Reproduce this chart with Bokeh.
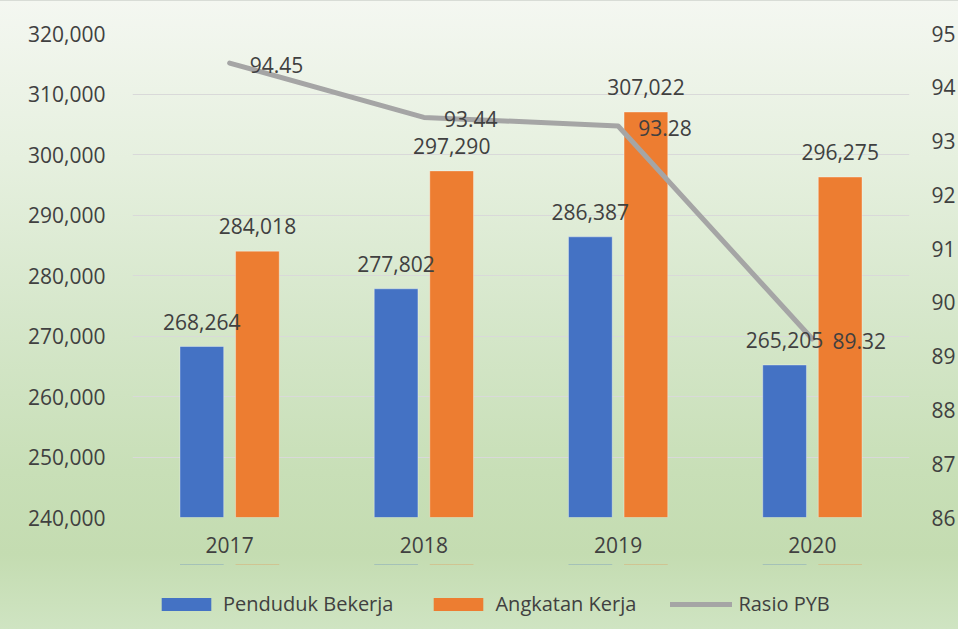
from bokeh.plotting import figure
from bokeh.layouts import column
from bokeh.models import (ColumnDataSource, Range1d, FactorRange, LinearAxis, FixedTicker,
                          NumeralTickFormatter, LabelSet, Legend, LegendItem)
from bokeh.core.properties import value
from bokeh.transform import dodge
from bokeh.embed import file_html
from bokeh.resources import INLINE

# ---- data ----
years = ["2017", "2018", "2019", "2020"]
penduduk_bekerja = [268264, 277802, 286387, 265205]
angkatan_kerja = [284018, 297290, 307022, 296275]
rasio_pyb = [94.45, 93.44, 93.28, 89.32]
left_ticks = [240000, 250000, 260000, 270000, 280000, 290000, 300000, 310000, 320000]
right_ticks = [86, 87, 88, 89, 90, 91, 92, 93, 94, 95]
series_names = ["Penduduk Bekerja", "Angkatan Kerja", "Rasio PYB"]

BLUE = "#4472C4"
ORANGE = "#ED7D31"
GRAY = "#A5A5A5"
TXT = "#404040"
FONT = "Open Sans"

src = ColumnDataSource(dict(
    year=years,
    pb=penduduk_bekerja,
    ak=angkatan_kerja,
    pyb=rasio_pyb,
    base=[left_ticks[0]] * len(years),
    pb_lbl=[f"{v:,}" for v in penduduk_bekerja],
    ak_lbl=[f"{v:,}" for v in angkatan_kerja],
    pyb_lbl=[f"{v:.2f}" for v in rasio_pyb],
))

W = 958
xr = FactorRange(*years)
p = figure(x_range=xr,
           y_range=Range1d(left_ticks[0], left_ticks[-1]),
           width=W, height=563,
           output_backend="svg", toolbar_location=None,
           min_border_left=132, min_border_right=45,
           min_border_top=32, min_border_bottom=47,
           background_fill_alpha=0, border_fill_alpha=0,
           outline_line_color=None)

p.extra_y_ranges = {"pyb": Range1d(right_ticks[0], right_ticks[-1])}

# bars
bw = 0.225
bar_style = dict(line_color="white", line_alpha=0.35, line_width=1)
b1 = p.vbar(x=dodge("year", -0.143, range=xr), top="pb", bottom="base", width=bw,
            source=src, fill_color=BLUE, **bar_style)
b2 = p.vbar(x=dodge("year", 0.143, range=xr), top="ak", bottom="base", width=bw,
            source=src, fill_color=ORANGE, **bar_style)
# line
line_style = dict(line_color=GRAY, line_width=5, line_join="round", line_cap="round")
l1 = p.line(x="year", y="pyb", source=src, y_range_name="pyb", **line_style)

# axes
p.yaxis.ticker = FixedTicker(ticks=left_ticks)
p.yaxis.formatter = NumeralTickFormatter(format="0,0")
ax_r = LinearAxis(y_range_name="pyb", ticker=FixedTicker(ticks=right_ticks))
p.add_layout(ax_r, "right")

for ax in [p.yaxis[0], ax_r, p.xaxis[0]]:
    ax.axis_line_color = None
    ax.major_tick_line_color = None
    ax.minor_tick_line_color = None
    ax.major_tick_out = 0
    ax.major_tick_in = 0
    ax.major_label_text_font = FONT
    ax.major_label_text_font_size = "21px"
    ax.major_label_text_color = TXT
p.yaxis[0].major_label_standoff = 27
ax_r.major_label_standoff = 22
p.xaxis[0].major_label_standoff = 19

p.xgrid.grid_line_color = None
p.ygrid.grid_line_color = "#d9d9d9"
p.ygrid.grid_line_width = 1.2

# data labels
common = dict(source=src, text_font=value(FONT), text_font_size=value("21px"),
              text_color=TXT)
p.add_layout(LabelSet(x=dodge("year", -0.143, range=xr), y="pb", text="pb_lbl",
                      text_align="center", text_baseline="middle", y_offset=25, **common))
p.add_layout(LabelSet(x=dodge("year", 0.143, range=xr), y="ak", text="ak_lbl",
                      text_align="center", text_baseline="middle", y_offset=25, **common))
p.add_layout(LabelSet(x="year", y="pyb", y_range_name="pyb", text="pyb_lbl",
                      text_align="left", text_baseline="middle", x_offset=20, y_offset=-2,
                      **common))

# legend strip: a separate, axis-less figure whose renderers reuse the same data;
# its ranges put every mark well above its frame, so only the legend swatches show
lg = figure(width=W, height=65, x_range=xr, y_range=Range1d(0, 150000),
            output_backend="svg", toolbar_location=None,
            x_axis_location=None, y_axis_location=None,
            min_border_left=132, min_border_right=45, min_border_top=0, min_border_bottom=0,
            background_fill_alpha=0, border_fill_alpha=0, outline_line_color=None)
lg.extra_y_ranges = {"pyb": Range1d(0, 40)}
lg.grid.grid_line_color = None
lb1 = lg.vbar(x=dodge("year", -0.143, range=xr), top="pb", bottom="base", width=bw,
              source=src, fill_color=BLUE, line_color=None)
lb2 = lg.vbar(x=dodge("year", 0.143, range=xr), top="ak", bottom="base", width=bw,
              source=src, fill_color=ORANGE, line_color=None)
ll1 = lg.line(x="year", y="pyb", source=src, y_range_name="pyb", **line_style)
legend = Legend(items=[LegendItem(label=series_names[0], renderers=[lb1]),
                       LegendItem(label=series_names[1], renderers=[lb2]),
                       LegendItem(label=series_names[2], renderers=[ll1])],
                orientation="horizontal", location=(23, 12),
                glyph_width=62, glyph_height=16, label_standoff=6, spacing=34,
                padding=0, margin=0, background_fill_alpha=0, border_line_color=None,
                label_text_font=FONT, label_text_font_size="20px", label_text_color=TXT)
lg.add_layout(legend, "center")

layout = column(p, lg, spacing=0)
layout.styles = {"background": "linear-gradient(to bottom, #f4f7f1 0%, #e6f0df 25%, "
                               "#d6e7cb 50%, #c8dfb7 75%, #c4dcb1 88%, #cfe4c2 100%)",
                 "border-top": "1px solid #d8dcd6"}

open("out.html", "w").write(file_html(layout, INLINE))
